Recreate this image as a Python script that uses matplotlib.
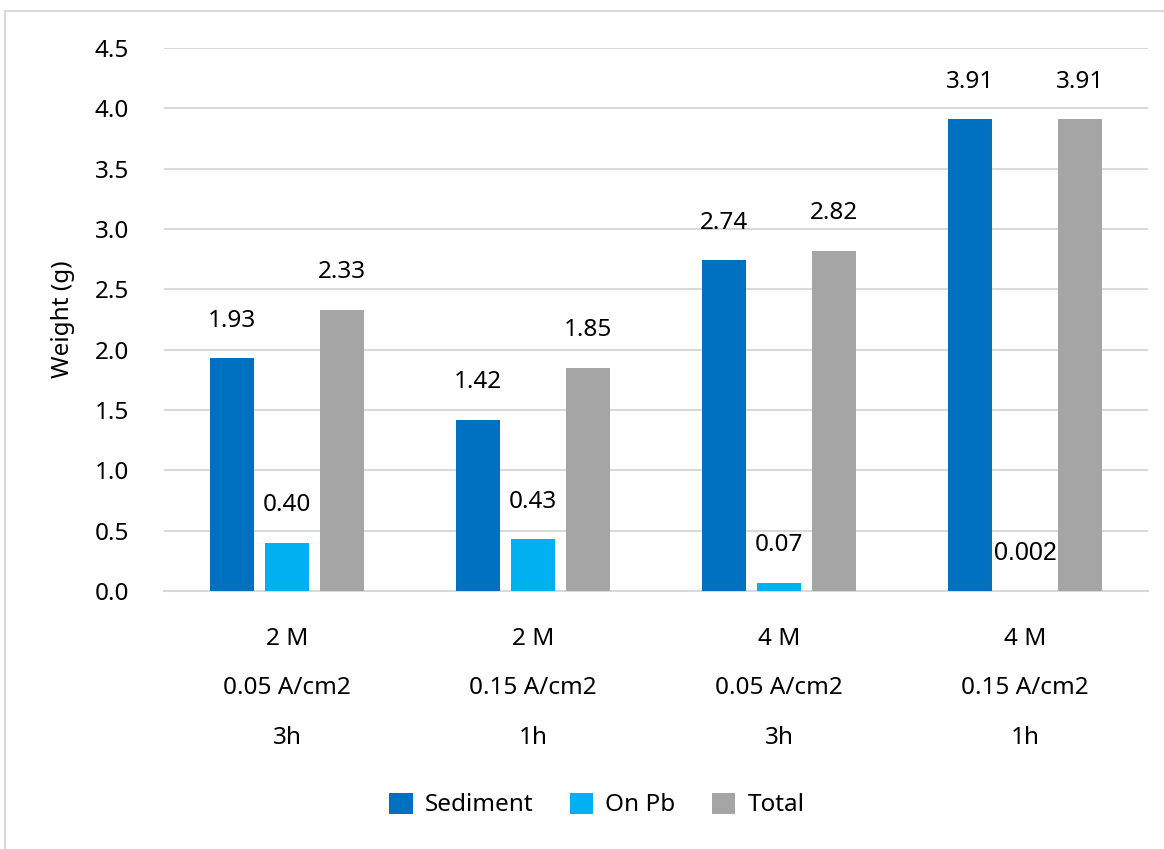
import matplotlib
matplotlib.use("Agg")
import matplotlib.pyplot as plt
from matplotlib.patches import Rectangle
import numpy as np

# Data
categories = ["2 M\n0.05 A/cm2\n3h", "2 M\n0.15 A/cm2\n1h",
              "4 M\n0.05 A/cm2\n3h", "4 M\n0.15 A/cm2\n1h"]
series_names = ["Sediment", "On Pb", "Total"]
sediment = [1.93, 1.42, 2.74, 3.91]
on_pb = [0.40, 0.43, 0.07, 0.002]
total = [2.33, 1.85, 2.82, 3.91]
on_pb_labels = ["0.40", "0.43", "0.07", "0.002"]
sediment_labels = ["1.93", "1.42", "2.74", "3.91"]
total_labels = ["2.33", "1.85", "2.82", "3.91"]
y_ticks = [0.0, 0.5, 1.0, 1.5, 2.0, 2.5, 3.0, 3.5, 4.0, 4.5]

colors = ["#0070C0", "#00B0F0", "#A5A5A5"]
FONT = "Noto Sans"
FS = 17.5

W, H = 1164, 849
fig = plt.figure(figsize=(W / 100, H / 100), dpi=100)
fig.patch.set_facecolor("white")

# Light frame around the chart area (top and left edges visible)
fig.add_artist(Rectangle((5 / W, -0.1), 1.2, 1 - 11 / H + 0.1,
                         transform=fig.transFigure, fill=False,
                         edgecolor="#D9D9D9", linewidth=1.5))

left, right = 164 / W, 1148 / W
top, bottom = 1 - 48 / H, 1 - 591 / H
ax = fig.add_axes([left, bottom, right - left, top - bottom])

x = np.arange(len(categories))
bw = 0.18
offs = [-0.224, 0.0, 0.224]
all_series = [sediment, on_pb, total]
all_labels = [sediment_labels, on_pb_labels, total_labels]

for vals, labs, off, c, name in zip(all_series, all_labels, offs, colors, series_names):
    ax.bar(x + off, vals, width=bw, color=c, label=name, zorder=3)
    for xi, v, lab in zip(x + off, vals, labs):
        if lab == "0.002":
            ax.text(xi, 0.315, lab, ha="center", va="center", fontsize=18,
                    family="Liberation Sans", color="black", zorder=4)
        else:
            ax.annotate(lab, (xi, v), xytext=(0, 27), textcoords="offset points",
                        ha="center", va="center", fontsize=FS, family=FONT,
                        color="black", zorder=4)

ax.set_xlim(-0.5, len(categories) - 0.5)
ax.set_ylim(0, 4.5)
ax.set_yticks(y_ticks)
ax.set_yticklabels([f"{t:.1f}" for t in y_ticks], fontsize=FS, family=FONT)
ax.set_xticks(x)
ax.set_xticklabels(categories, fontsize=FS, family=FONT, linespacing=2.4)
ax.tick_params(axis="both", length=0)
ax.tick_params(axis="y", pad=25)
ax.tick_params(axis="x", pad=26)
ax.grid(axis="y", color="#D9D9D9", linewidth=1.5, zorder=0)
ax.set_axisbelow(True)
for sp in ["top", "right", "left"]:
    ax.spines[sp].set_visible(False)
ax.spines["bottom"].set_color("#D9D9D9")
ax.spines["bottom"].set_linewidth(1.5)

ax.set_ylabel("Weight (g)", fontsize=FS, family=FONT)
ax.yaxis.set_label_coords(-0.09, 0.5)

handles, labels = ax.get_legend_handles_labels()
fig.legend(handles, labels, loc="center", bbox_to_anchor=(597 / W, 1 - 805 / H),
           ncol=3, frameon=False, prop={"family": FONT, "size": FS},
           handlelength=0.96, handleheight=0.96, handletextpad=0.5, columnspacing=1.5)

fig.savefig("out.png", dpi=100, facecolor="white")
